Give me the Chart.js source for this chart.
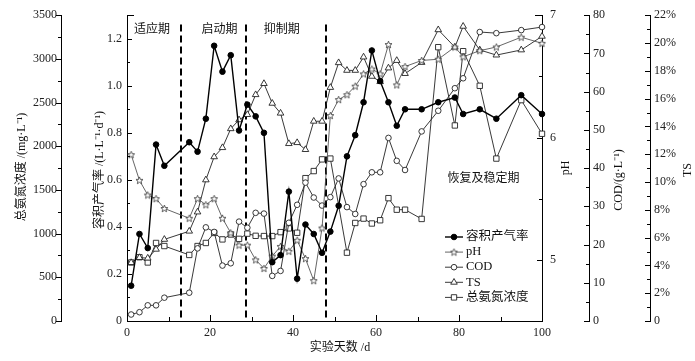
<!DOCTYPE html>
<html><head><meta charset="utf-8">
<script src="https://cdn.jsdelivr.net/npm/chart.js@4.4.1/dist/chart.umd.min.js"></script>
<style>html,body{margin:0;padding:0;background:#fff;}#wrap{width:695px;height:361px;}</style>
</head><body><div id="wrap"><canvas id="c" width="695" height="361"></canvas></div>
<script>
// ---- data ----
const days = [1,3,5,7,9,15,17,19,21,23,25,27,29,31,33,35,37,39,41,43,45,47,49,51,53,55,57,59,61,63,65,67,71,75,79,81,85,89,95,100];
const gasRate = [0.15,0.37,0.31,0.75,0.66,0.76,0.72,0.86,1.17,1.06,1.13,0.81,0.92,0.87,0.80,0.25,0.28,0.55,0.18,0.41,0.37,0.29,0.38,0.49,0.70,0.79,0.93,1.15,1.02,0.93,0.83,0.90,0.90,0.93,0.95,0.88,0.90,0.86,0.96,0.88];
const pH = [5.86,5.65,5.53,5.50,5.42,5.34,5.50,5.45,5.50,5.34,5.22,5.12,5.12,5.00,4.93,5.03,5.11,5.07,5.16,5.01,4.83,5.26,6.18,6.31,6.35,6.42,6.52,6.56,6.52,6.76,6.43,6.58,6.63,6.64,6.74,6.66,6.71,6.74,6.82,6.77];
const cod = [1.7,2.3,4.1,4.1,6.1,7.4,19.0,24.5,23.3,14.5,15.1,26.0,24.4,28.3,28.1,11.8,13.1,25.7,30.4,36.2,32.3,30.2,32.4,37.3,29.8,28.0,35.8,38.9,38.9,47.9,41.9,39.5,49.6,55.0,60.9,63.5,75.6,75.3,76.1,76.9];
const ts = [4.2,4.56,4.52,5.16,5.87,6.46,7.84,10.15,11.81,12.47,13.83,14.47,14.85,16.28,17.08,15.66,14.95,12.76,12.83,12.33,14.37,14.37,16.8,18.58,18.03,18.03,18.99,17.6,17.22,18.2,18.74,17.8,18.6,20.95,19.7,21.2,19.5,19.13,19.5,20.48];
const tan = [670,730,670,893,858,756,858,893,1008,934,990,940,1000,975,972,972,1017,1060,1010,1635,1716,1850,1859,null,782,1122,1172,1116,1153,1406,1274,1274,1168,3134,2238,3088,2692,1859,2528,2143];
const phaseBounds = [13, 28.7, 48];
const phaseNames = ['适应期','启动期','抑制期','恢复及稳定期'];
const seriesNames = ['容积产气率','pH','COD','TS','总氨氮浓度'];
const xTitle = '实验天数 /d';
const axisTitles = {tan:'总氨氮浓度 /(mg·L⁻¹)', gas:'容积产气率 /(L·L⁻¹·d⁻¹)', ph:'pH', cod:'COD/(g·L⁻¹)', ts:'TS'};

// ---- styles ----
const F_SERIF = "'Liberation Serif','Noto Sans CJK SC',serif";
const F_CJK = "'Noto Sans CJK SC','Liberation Serif',sans-serif";

const starImg = (() => {
  const c = document.createElement('canvas');
  const s = 9; c.width = s; c.height = s;
  const g = c.getContext('2d');
  const cx = s/2, cy = s/2 + 0.3, R = 3.7, r = 1.6;
  g.beginPath();
  for (let k = 0; k < 10; k++) {
    const a = -Math.PI/2 + k*Math.PI/5;
    const rr = k%2===0 ? R : r;
    g.lineTo(cx + rr*Math.cos(a), cy + rr*Math.sin(a));
  }
  g.closePath();
  g.fillStyle = '#fff'; g.fill();
  g.strokeStyle = '#333'; g.lineWidth = 0.8; g.stroke();
  return c;
})();

function pts(arr){ return days.map((d,i)=>({x:d, y:arr[i]})); }
const common = {tension:0, fill:false, clip:false, spanGaps:true, pointHoverRadius:3};

function yScale(pos, weight, min, max, step, cb, width, pad) {
  return {
    type:'linear', position:pos, weight:weight, min:min, max:max,
    grid:{display:false, drawTicks:false},
    border:{display:true, color:'#000', width:1},
    ticks:{stepSize:step, maxTicksLimit:100, autoSkip:false, padding:pad, color:'#222',
           font:{family:F_SERIF, size:12}, callback:cb},
    afterFit: s => { s.width = width; }
  };
}

const tickDirs = {tan:-1, gas:1, ph:-1, cod:-1, ts:-1};

const decoPlugin = {
  id:'deco',
  beforeDatasetsDraw(chart) {
    const ctx = chart.ctx, xs = chart.scales.x, gs = chart.scales.gas;
    ctx.save();
    ctx.strokeStyle = '#000'; ctx.lineWidth = 2; ctx.setLineDash([7,4]);
    const top = gs.getPixelForValue(1.26);
    phaseBounds.forEach(b => {
      const x = Math.round(xs.getPixelForValue(b));
      ctx.beginPath(); ctx.moveTo(x, top); ctx.lineTo(x, chart.chartArea.bottom); ctx.stroke();
    });
    ctx.restore();
  },
  afterDraw(chart) {
    const ctx = chart.ctx, S = chart.scales;
    ctx.save();
    ctx.strokeStyle = '#000'; ctx.lineWidth = 1; ctx.setLineDash([]);
    Object.keys(tickDirs).forEach(id => {
      const sc = S[id], dir = tickDirs[id];
      const ax = (id === 'tan' || id === 'gas') ? sc.right : sc.left;
      sc.ticks.forEach(t => {
        const y = Math.round(sc.getPixelForValue(t.value)) + 0.5;
        const len = (t.label !== '' && t.label != null) ? 5 : 3;
        ctx.beginPath(); ctx.moveTo(ax, y); ctx.lineTo(ax + dir*len, y); ctx.stroke();
      });
    });
    const topY = Math.round(chart.chartArea.top) + 0.5;
    ctx.beginPath(); ctx.moveTo(S.gas.right, topY); ctx.lineTo(S.gas.right + 7, topY); ctx.stroke();
    ctx.beginPath(); ctx.moveTo(S.ph.left, topY); ctx.lineTo(S.ph.left - 7, topY); ctx.stroke();
    const xs = S.x;
    xs.ticks.forEach(t => {
      const x = Math.round(xs.getPixelForValue(t.value)) + 0.5;
      const len = (t.label !== '' && t.label != null) ? 6 : 4;
      ctx.beginPath(); ctx.moveTo(x, xs.top); ctx.lineTo(x, xs.top - len); ctx.stroke();
    });

    ctx.fillStyle = '#111'; ctx.textAlign = 'center'; ctx.textBaseline = 'middle';
    ctx.font = '12px ' + F_SERIF;
    const vTitle = (txt, x, y) => { ctx.save(); ctx.translate(x, y); ctx.rotate(-Math.PI/2); ctx.fillText(txt, 0, 0); ctx.restore(); };
    vTitle(axisTitles.tan, 22, 167);
    vTitle(axisTitles.gas, 100, 170);
    vTitle(axisTitles.ph, 566, 168);
    vTitle(axisTitles.cod, 619, 180);
    vTitle(axisTitles.ts, 688, 170);
    ctx.fillText(xTitle, 340, 348);

    ctx.font = '12px ' + F_CJK;
    const gs = S.gas;
    const phasePos = [[6,1.243],[22.3,1.243],[37.3,1.243],[85.9,0.609]];
    phaseNames.forEach((n,i) => {
      ctx.fillText(n, xs.getPixelForValue(phasePos[i][0]), gs.getPixelForValue(phasePos[i][1]));
    });

    const ds = chart.data.datasets;
    const lx0 = 445, lx1 = 463, lmx = 454, ly0 = 237, ldy = 15.1;
    ds.forEach((d, i) => {
      const y = ly0 + i*ldy;
      ctx.strokeStyle = d.borderColor; ctx.lineWidth = d.borderWidth;
      ctx.beginPath(); ctx.moveTo(lx0, y); ctx.lineTo(lx1, y); ctx.stroke();
      if (d.pointStyle instanceof HTMLCanvasElement) {
        ctx.drawImage(d.pointStyle, lmx - d.pointStyle.width/2, y - d.pointStyle.height/2);
      } else {
        ctx.fillStyle = d.pointBackgroundColor; ctx.strokeStyle = d.pointBorderColor; ctx.lineWidth = d.pointBorderWidth;
        ctx.beginPath();
        const r = d.pointRadius;
        if (d.pointStyle === 'circle') ctx.arc(lmx, y, r, 0, Math.PI*2);
        else if (d.pointStyle === 'rect') { const h = r*Math.SQRT1_2; ctx.rect(lmx-h, y-h, 2*h, 2*h); }
        else if (d.pointStyle === 'triangle') { ctx.moveTo(lmx, y - r); ctx.lineTo(lmx + r*0.866, y + r*0.5); ctx.lineTo(lmx - r*0.866, y + r*0.5); ctx.closePath(); }
        ctx.fill(); ctx.stroke();
      }
      ctx.fillStyle = '#111'; ctx.textAlign = 'left'; ctx.textBaseline = 'middle';
      ctx.font = '12.5px ' + F_SERIF;
      ctx.fillText(seriesNames[i], 466, y);
    });
    ctx.restore();
  }
};

new Chart(document.getElementById('c'), {
  type:'line',
  data:{ datasets:[
    Object.assign({label:seriesNames[0], data:pts(gasRate), yAxisID:'gas', borderColor:'#000', borderWidth:1.4,
      pointStyle:'circle', pointRadius:2.8, pointBackgroundColor:'#000', pointBorderColor:'#000', pointBorderWidth:1}, common),
    Object.assign({label:seriesNames[1], data:pts(pH), yAxisID:'ph', borderColor:'#555', borderWidth:0.9,
      pointStyle:starImg, pointRadius:4, pointBackgroundColor:'#fff', pointBorderColor:'#333', pointBorderWidth:0.8}, common),
    Object.assign({label:seriesNames[2], data:pts(cod), yAxisID:'cod', borderColor:'#222', borderWidth:0.9,
      pointStyle:'circle', pointRadius:2.8, pointBackgroundColor:'#fff', pointBorderColor:'#222', pointBorderWidth:0.9}, common),
    Object.assign({label:seriesNames[3], data:pts(ts), yAxisID:'ts', borderColor:'#222', borderWidth:0.9,
      pointStyle:'triangle', pointRadius:3.8, pointBackgroundColor:'#fff', pointBorderColor:'#222', pointBorderWidth:0.9}, common),
    Object.assign({label:seriesNames[4], data:pts(tan), yAxisID:'tan', borderColor:'#222', borderWidth:0.9,
      pointStyle:'rect', pointRadius:3.8, pointBackgroundColor:'#fff', pointBorderColor:'#222', pointBorderWidth:0.9}, common)
  ]},
  options:{
    responsive:false, animation:false, devicePixelRatio:1,
    layout:{padding:{top:12, left:0, right:0, bottom:0}},
    plugins:{legend:{display:false}, tooltip:{enabled:false}, title:{display:false}},
    events:[],
    scales:{
      x:{type:'linear', position:'bottom', min:0, max:100,
         grid:{display:false, drawTicks:false}, border:{display:true, color:'#000', width:1},
         ticks:{stepSize:10, autoSkip:false, maxRotation:0, padding:5, color:'#222', font:{family:F_SERIF, size:12},
                callback:v => (v % 20 === 0 ? String(v) : '')},
         afterFit: s => { s.height = 40; }},
      tan: yScale('left', 2, 0, 3500, 250, v => (v % 500 === 0 ? String(v) : ''), 61, 4),
      gas: yScale('left', 1, 0, 1.3, 0.1, v => { const k = Math.round(v*10); return k % 2 === 0 ? (k === 0 ? '0' : (k/10).toFixed(1)) : ''; }, 66, 5),
      ph:  yScale('right', 1, 4.5, 7, 0.5, v => (Math.abs(v - Math.round(v)) < 1e-6 ? String(Math.round(v)) : ''), 47, 8),
      cod: yScale('right', 2, 0, 80, 5, v => (v % 10 === 0 ? String(v) : ''), 61, 4),
      ts:  yScale('right', 3, 0, 22, 1, v => { const k = Math.round(v); return k % 2 === 0 ? (k === 0 ? '0' : k + '%') : ''; }, 45, 4)
    }
  },
  plugins:[decoPlugin]
});
</script></body></html>
